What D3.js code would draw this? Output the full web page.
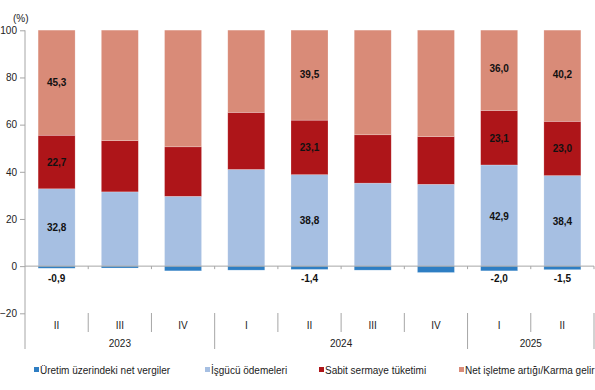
<!DOCTYPE html>
<html>
<head>
<meta charset="utf-8">
<script src="https://cdn.jsdelivr.net/npm/d3@7"></script>
<style>
  body { margin: 0; background: #fff; }
  svg { font-family: "Liberation Sans", Arial, sans-serif; }
</style>
</head>
<body>
<div class="chart"></div>
<script>

// quarters and years
var quarters = ["II", "III", "IV", "I", "II", "III", "IV", "I", "II"];
var years = [{y: "2023", from: 0, to: 3}, {y: "2024", from: 3, to: 7}, {y: "2025", from: 7, to: 9}];

// series (%), labels only where printed in the chart
var vergiler  = [-0.9, -0.8, -2.0, -1.7, -1.4, -1.7, -2.7, -2.0, -1.5];
var isgucu    = [32.8, 31.5, 29.6, 41.0, 38.8, 35.2, 34.7, 42.9, 38.4];
var sabit     = [22.7, 21.7, 21.0, 24.2, 23.1, 20.5, 20.2, 23.1, 23.0];
var netIsletme= [45.3, 47.6, 51.4, 36.5, 39.5, 46.0, 47.8, 36.0, 40.2];
var showLabel = [true, false, false, false, true, false, false, true, true];

var yTicks = [100, 80, 60, 40, 20, 0, -20];

var legendNames = ["Üretim üzerindeki net vergiler", "İşgücü ödemeleri", "Sabit sermaye tüketimi", "Net işletme artığı/Karma gelir"];
var colors = ["#2e7ec3", "#a6bfe2", "#ae1519", "#d98b78"];

var W = 595, H = 390;
var svg = d3.select(".chart").append("svg").attr("width", W).attr("height", H);

var left = 25, right = 594;
var x = d3.scaleBand().domain(d3.range(quarters.length)).range([left, right]).paddingInner(0.415).paddingOuter(0.2075);
var y = d3.scaleLinear().domain([-20, 100]).range([313.3, 30.3]);

var axisCol = "#a6a6a6";
var fs = 10;

// clip so stacks stop at 100
svg.append("clipPath").attr("id", "plot")
  .append("rect").attr("x", left).attr("y", y(100)).attr("width", right - left).attr("height", y(-20) - y(100));

var g = svg.append("g").attr("clip-path", "url(#plot)");

quarters.forEach(function(q, i) {
  var segs = [
    {v0: 0, v1: isgucu[i], c: colors[1]},
    {v0: isgucu[i], v1: isgucu[i] + sabit[i], c: colors[2]},
    {v0: isgucu[i] + sabit[i], v1: isgucu[i] + sabit[i] + netIsletme[i], c: colors[3]},
    {v0: vergiler[i], v1: 0, c: colors[0]}
  ];
  segs.forEach(function(s) {
    var lo = Math.min(s.v0, s.v1), hi = Math.max(s.v0, s.v1);
    g.append("rect")
      .attr("x", x(i)).attr("width", x.bandwidth())
      .attr("y", y(hi)).attr("height", y(lo) - y(hi))
      .attr("fill", s.c)
      .attr("stroke", "#fff").attr("stroke-opacity", 0.35).attr("stroke-width", 0.6);
  });
});

// zero line with little ticks at band edges
svg.append("line").attr("x1", left).attr("x2", right).attr("y1", y(0)).attr("y2", y(0))
  .attr("stroke", axisCol).attr("stroke-width", 1);
for (var k = 1; k <= quarters.length; k++) {
  var bx = left + k * x.step();
  svg.append("line").attr("x1", bx).attr("x2", bx).attr("y1", y(0)).attr("y2", y(0) + 3)
    .attr("stroke", axisCol);
}

// y axis
var yAxis = d3.axisLeft(y).tickValues(yTicks).tickSize(5).tickPadding(3);
var ya = svg.append("g").attr("transform", "translate(" + left + ",0)").call(yAxis);
ya.select(".domain").remove();
ya.selectAll(".tick line").attr("stroke", axisCol);
ya.selectAll(".tick text").attr("font-size", fs).attr("fill", "#222").attr("font-family", "Liberation Sans, Arial, sans-serif");
svg.append("line").attr("x1", left).attr("x2", left).attr("y1", y(100)).attr("y2", 349)
  .attr("stroke", axisCol);

svg.append("text").attr("x", 13).attr("y", 22).attr("font-size", fs).attr("fill", "#222").text("(%)");

// category separators
var catTop = 313, quarterBot = 332, yearBot = 349;
var yearEdges = years.map(function(d) { return d.to; });
for (var j = 1; j <= quarters.length; j++) {
  var sx = left + j * x.step();
  var isYear = yearEdges.indexOf(j) >= 0;
  svg.append("line").attr("x1", sx).attr("x2", sx).attr("y1", catTop).attr("y2", isYear ? yearBot : quarterBot)
    .attr("stroke", axisCol);
}

svg.selectAll(".qlab").data(quarters).enter().append("text")
  .attr("x", function(d, i) { return x(i) + x.bandwidth() / 2; })
  .attr("y", 329).attr("text-anchor", "middle").attr("font-size", fs).attr("fill", "#222")
  .text(function(d) { return d; });

svg.selectAll(".ylab").data(years).enter().append("text")
  .attr("x", function(d) { return left + (d.from + d.to) / 2 * x.step(); })
  .attr("y", 347).attr("text-anchor", "middle").attr("font-size", fs).attr("fill", "#222")
  .text(function(d) { return d.y; });

// value labels
function fmt(v) { return v.toFixed(1).replace(".", ","); }
var lab = svg.append("g").attr("font-size", fs).attr("font-weight", "bold").attr("fill", "#111").attr("text-anchor", "middle");
quarters.forEach(function(q, i) {
  if (!showLabel[i]) return;
  var cx = x(i) + x.bandwidth() / 2;
  var a = isgucu[i], b = a + sabit[i], c = b + netIsletme[i];
  lab.append("text").attr("x", cx).attr("y", y(a / 2) + 4).text(fmt(isgucu[i]));
  lab.append("text").attr("x", cx).attr("y", y((a + b) / 2) + 4).text(fmt(sabit[i]));
  lab.append("text").attr("x", cx).attr("y", y((b + c) / 2) + 4).text(fmt(netIsletme[i]));
  lab.append("text").attr("x", cx).attr("y", 282).text(fmt(vergiler[i]));
});

// legend
var legX = [34, 205, 319, 459];
legendNames.forEach(function(n, i) {
  svg.append("rect").attr("x", legX[i]).attr("y", 367).attr("width", 5).attr("height", 5).attr("fill", colors[i]);
  svg.append("text").attr("x", legX[i] + 6).attr("y", 374).attr("font-size", fs).attr("fill", "#222").text(n);
});

</script>
</body>
</html>
